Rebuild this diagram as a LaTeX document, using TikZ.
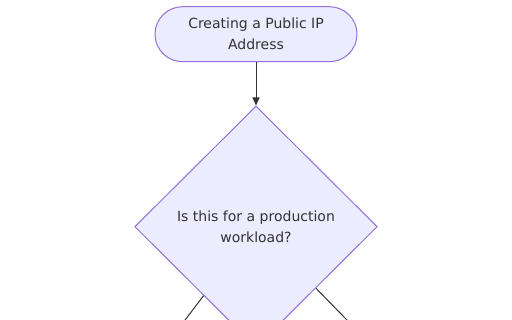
\documentclass[tikz,border=0pt]{standalone}
\usepackage{fontspec}
\setmainfont{DejaVu Sans}
\usetikzlibrary{positioning,arrows.meta,shapes.geometric}
\definecolor{boxfill}{HTML}{ECECFF}
\definecolor{boxline}{HTML}{9370DB}
\definecolor{ink}{HTML}{333333}
\begin{document}
\begin{tikzpicture}[>={Triangle[length=8pt,width=7pt]},x=1pt,y=-1pt,
  every node/.style={font=\fontsize{14}{21}\selectfont,text=ink,align=center},
  startbox/.style={draw=boxline,fill=boxfill,line width=1pt,rounded corners=27.5pt,
    minimum width=202pt,minimum height=55pt,inner sep=0pt},
  decision/.style={diamond,draw=boxline,fill=boxfill,line width=1pt,
    minimum width=242.6pt,minimum height=241.4pt,inner sep=0pt},
  link/.style={draw=ink,line width=1pt}]
  \clip (0,0) rectangle (512,320);
  % start and question
  \node[startbox] (start) at (256,34.2) {Creating a Public IP\\Address};
  \node[decision] (prod) at (256,226.7) {Is this for a production\\workload?};
  % branches leave the frame
  \coordinate (branchL) at (178,329.3);
  \coordinate (branchR) at (356,329.3);
  \draw[link,->] (start) -- (prod);
  \draw[link] (prod) -- (branchL);
  \draw[link] (prod) -- (branchR);
\end{tikzpicture}
\end{document}
